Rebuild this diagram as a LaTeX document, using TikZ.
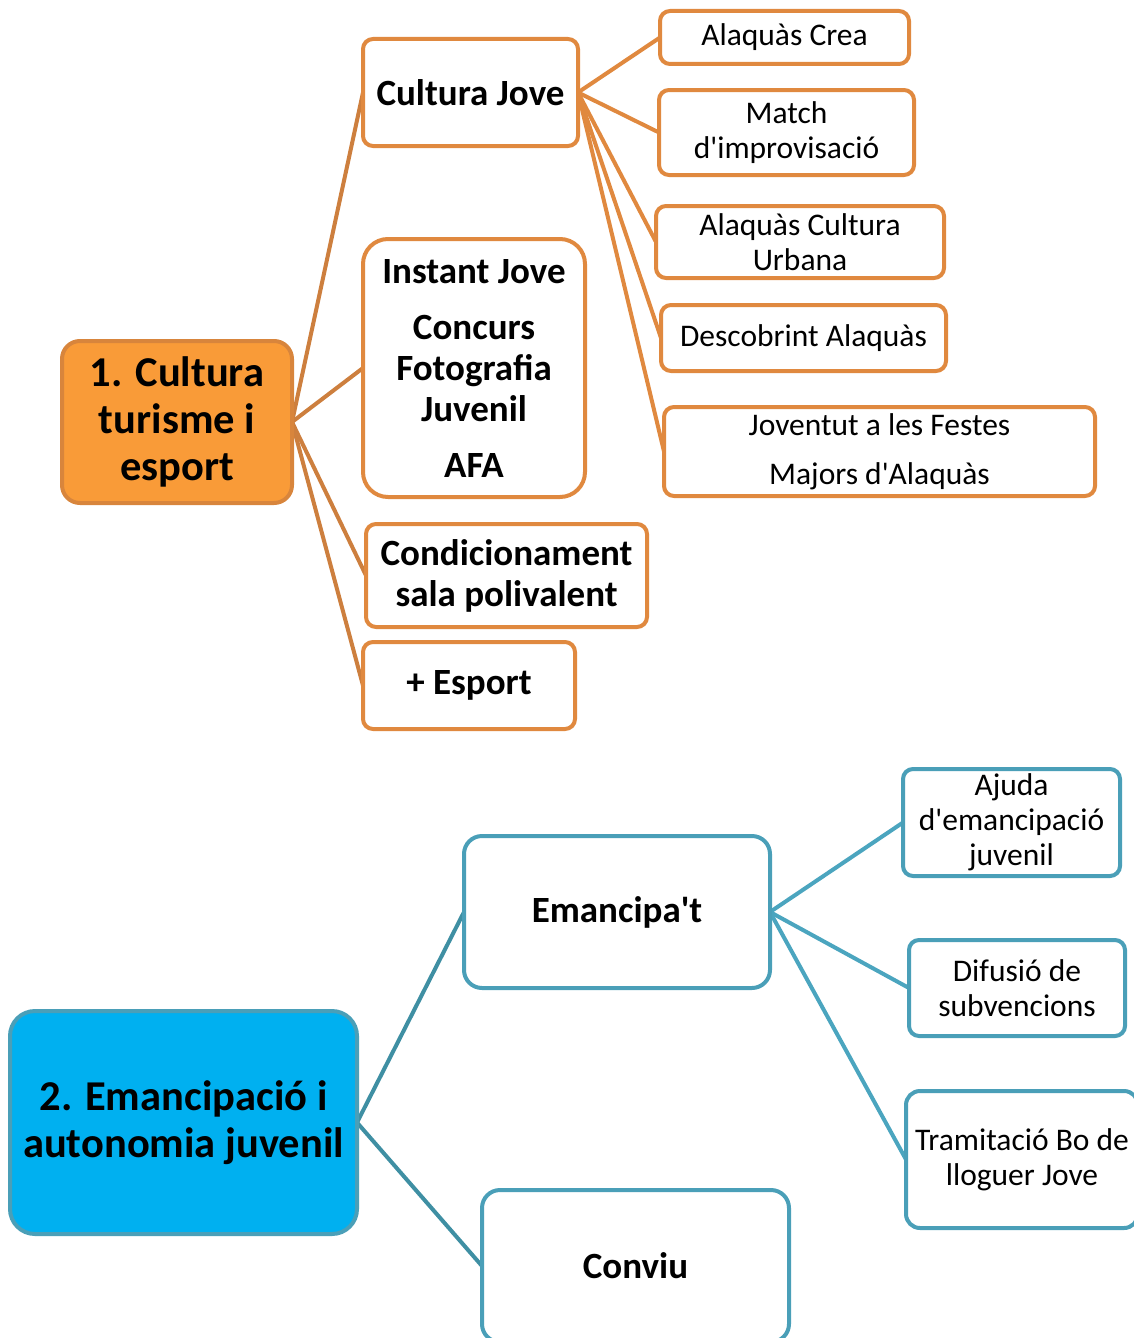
\documentclass[tikz,border=0pt]{standalone}
\usepackage{fontspec}
\setmainfont{Carlito}[Ligatures=TeXOff]
\usetikzlibrary{backgrounds}
\definecolor{obord}{HTML}{E0893F}
\definecolor{ofill}{HTML}{F99B38}
\definecolor{orbord}{HTML}{D8853C}
\definecolor{oline}{HTML}{CD7F3E}
\definecolor{bbord}{HTML}{4A9FB8}
\definecolor{bfill}{HTML}{00B0F0}
\definecolor{bline}{HTML}{3F8FA3}
\definecolor{bline2}{HTML}{4BA5BF}
\tikzset{
  box/.style={draw, line width=4pt, fill=white, rounded corners=10pt, inner sep=0pt, outer sep=0pt, align=center},
  obox/.style={box, draw=obord},
  bbox/.style={box, draw=bbord},
  nfont/.style={font=\fontsize{31.5}{35}\selectfont},
  bfont/.style={font=\fontsize{37}{41}\selectfont\bfseries},
  rfont/.style={font=\fontsize{42.5}{47}\selectfont\bfseries},
  conn/.style={line width=4pt},
}
\begin{document}
\begin{tikzpicture}[x=1pt,y=-1pt]
\useasboundingbox (0,0) rectangle (1134,1338);
\clip (0,0) rectangle (1134,1338);
% top tree
\node[obox, draw=orbord, fill=ofill, rfont, rounded corners=18pt, minimum width=230pt, minimum height=162pt] (r1) at (177,422) {1. Cultura\\turisme i\\esport};
\node[obox, bfont, minimum width=215pt, minimum height=107pt] (cj) at (470.5,92.5) {Cultura Jove};
\node[obox, bfont, rounded corners=25pt, minimum width=222pt, minimum height=258pt] (ij) at (474,368) {Instant Jove\\[15pt]Concurs\\Fotografia\\Juvenil\\[15pt]AFA};
\node[obox, bfont, minimum width=281pt, minimum height=103pt] (cs) at (506.5,575.5) {Condicionament\\sala polivalent};
\node[obox, bfont, minimum width=212pt, minimum height=87pt] (es) at (469,685.5) {+ Esport};
\node[obox, nfont, minimum width=249pt, minimum height=53pt] (ac) at (784.5,37.5) {Alaquàs Crea};
\node[obox, nfont, minimum width=255pt, minimum height=85pt] (mi) at (786.5,132.5) {Match\\d'improvisació};
\node[obox, nfont, minimum width=288pt, minimum height=72pt] (acu) at (800,242) {Alaquàs Cultura\\Urbana};
\node[obox, nfont, minimum width=285pt, minimum height=66pt] (da) at (803.5,338) {Descobrint Alaquàs};
\node[obox, nfont, minimum width=431pt, minimum height=89pt] (jf) at (879.5,451.5) {Joventut a les Festes\\[14pt]Majors d'Alaquàs};
% bottom tree
\node[bbox, fill=bfill, rfont, rounded corners=25pt, minimum width=347pt, minimum height=223pt] (r2) at (183.5,1122.5) {2. Emancipació i\\autonomia juvenil};
\node[bbox, bfont, rounded corners=18pt, minimum width=306pt, minimum height=152pt] (em) at (617,912) {Emancipa't};
\node[bbox, bfont, rounded corners=18pt, minimum width=307pt, minimum height=152pt] (cv) at (635.5,1266) {Conviu};
\node[bbox, nfont, minimum width=217pt, minimum height=107pt] (aj) at (1011.5,822.5) {Ajuda\\d'emancipació\\juvenil};
\node[bbox, nfont, minimum width=216pt, minimum height=96pt] (ds) at (1017,988) {Difusió de\\subvencions};
\node[bbox, nfont, rounded corners=14pt, minimum width=232pt, minimum height=137pt] (tb) at (1022,1159.5) {Tramitació Bo de\\lloguer Jove};
\begin{scope}[on background layer]
\foreach \c in {cj,ij,cs,es} \draw[conn, oline] (r1.east) -- (\c.west);
\foreach \c in {ac,mi,acu,da,jf} \draw[conn, obord] (cj.east) -- (\c.west);
\foreach \c in {em,cv} \draw[conn, bline] (r2.east) -- (\c.west);
\foreach \c in {aj,ds,tb} \draw[conn, bline2] (em.east) -- (\c.west);
\end{scope}
\end{tikzpicture}
\end{document}
